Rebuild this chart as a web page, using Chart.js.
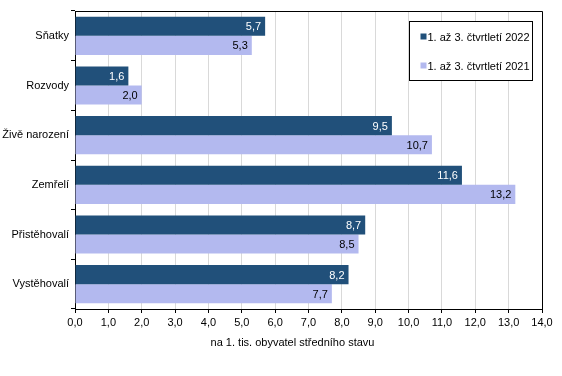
<!DOCTYPE html>
<html>
<head>
<meta charset="utf-8">
<script src="https://cdn.jsdelivr.net/npm/chart.js@4.4.1/dist/chart.umd.min.js"></script>
<style>
    body { margin: 0; background: #fff; }
</style>
</head>
<body>
<canvas id="chart" width="562" height="376"></canvas>
<script>
const categories = ['Sňatky', 'Rozvody', 'Živě narození', 'Zemřelí', 'Přistěhovalí', 'Vystěhovalí'];
const seriesNames = ['1. až 3. čtvrtletí 2022', '1. až 3. čtvrtletí 2021'];
const values2022 = [5.7, 1.6, 9.5, 11.6, 8.7, 8.2];
const values2021 = [5.3, 2.0, 10.7, 13.2, 8.5, 7.7];
const axisTitle = 'na 1. tis. obyvatel středního stavu';

const FONT = '"Liberation Sans", Arial, sans-serif';
const DARK = '#21507A';
const LIGHT = '#B3B9EF';

function fmt(v) {
    return v.toFixed(1).replace('.', ',');
}

// value labels inside the bar ends
const valueLabels = {
    id: 'valueLabels',
    afterDatasetsDraw(chart) {
        const ctx = chart.ctx;
        ctx.save();
        ctx.font = '11px ' + FONT;
        ctx.textAlign = 'right';
        ctx.textBaseline = 'middle';
        chart.data.datasets.forEach((ds, i) => {
            ctx.fillStyle = i === 0 ? '#ffffff' : '#000000';
            chart.getDatasetMeta(i).data.forEach((bar, j) => {
                ctx.fillText(fmt(ds.data[j]), bar.x - 4, bar.y + 1);
            });
        });
        ctx.restore();
    }
};

// top and right border of the plot area, plus the x axis title
const plotFrame = {
    id: 'plotFrame',
    beforeDatasetsDraw(chart) {
        const {ctx, chartArea: a} = chart;
        ctx.save();
        ctx.strokeStyle = '#000';
        ctx.lineWidth = 1;
        ctx.beginPath();
        ctx.moveTo(a.left, a.top + 0.5);
        ctx.lineTo(a.right + 0.5, a.top + 0.5);
        ctx.lineTo(a.right + 0.5, a.bottom);
        ctx.stroke();
        ctx.font = '11px ' + FONT;
        ctx.fillStyle = '#000';
        ctx.textAlign = 'center';
        ctx.textBaseline = 'middle';
        ctx.fillText(axisTitle, (a.left + a.right) / 2 - 16, a.bottom + 34);
        ctx.restore();
    }
};

// boxed legend inside the plot area
const boxLegend = {
    id: 'boxLegend',
    afterDraw(chart) {
        const {ctx, chartArea: a} = chart;
        const left = Math.round(chart.scales.x.getPixelForValue(10)) + 0.5;
        const right = a.right - 9.5;
        const top = a.top + 10.5;
        const bottom = top + 59;
        ctx.save();
        ctx.fillStyle = '#fff';
        ctx.fillRect(left, top, right - left, bottom - top);
        ctx.strokeStyle = '#000';
        ctx.lineWidth = 1;
        ctx.strokeRect(left, top, right - left, bottom - top);
        ctx.font = '11px ' + FONT;
        ctx.textBaseline = 'middle';
        ctx.textAlign = 'left';
        chart.data.datasets.forEach((ds, i) => {
            const y = top + 15 + i * 29;
            ctx.fillStyle = ds.backgroundColor;
            ctx.fillRect(left + 11, y - 3, 6, 6);
            ctx.fillStyle = '#000';
            ctx.fillText(ds.label, left + 18, y + 1);
        });
        ctx.restore();
    }
};

new Chart(document.getElementById('chart'), {
    type: 'bar',
    data: {
        labels: categories,
        datasets: [
            { label: seriesNames[0], data: values2022, backgroundColor: DARK },
            { label: seriesNames[1], data: values2021, backgroundColor: LIGHT }
        ]
    },
    options: {
        indexAxis: 'y',
        responsive: false,
        animation: false,
        layout: { padding: { top: 11, right: 20, left: 0, bottom: 0 } },
        datasets: {
            bar: { categoryPercentage: 0.77, barPercentage: 1.0 }
        },
        plugins: {
            legend: { display: false },
            tooltip: { enabled: false }
        },
        scales: {
            x: {
                min: 0,
                max: 14,
                ticks: {
                    stepSize: 1,
                    color: '#000',
                    padding: 3,
                    font: { family: FONT, size: 11 },
                    callback: v => fmt(v)
                },
                grid: { color: '#d9d9d9', tickColor: '#000', tickLength: 4 },
                border: { color: '#000' },
                afterFit(scale) { scale.height = 67; }
            },
            y: {
                ticks: {
                    color: '#000',
                    padding: 2,
                    font: { family: FONT, size: 11 }
                },
                grid: { offset: true, drawOnChartArea: false, tickColor: '#000', tickLength: 4 },
                border: { color: '#000' },
                afterFit(scale) { scale.width = 75; }
            }
        }
    },
    plugins: [plotFrame, valueLabels, boxLegend]
});
</script>
</body>
</html>
